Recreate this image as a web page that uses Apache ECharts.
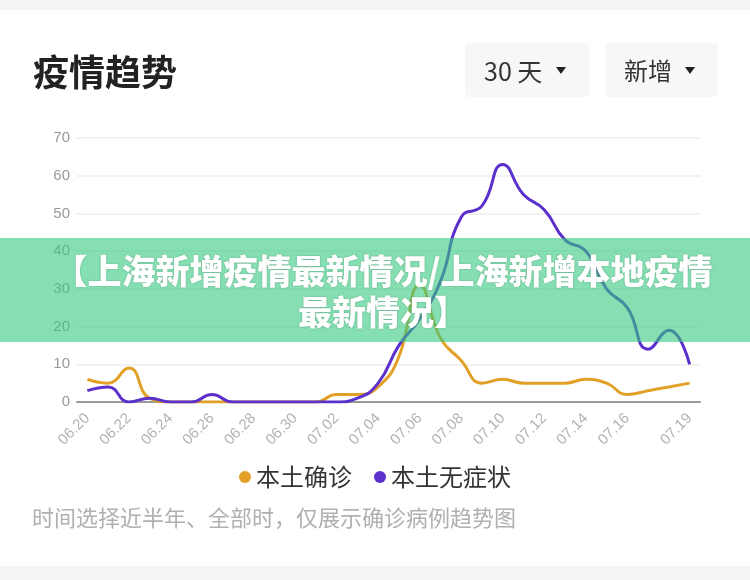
<!DOCTYPE html>
<html>
<head>
<meta charset="utf-8">
<script src="https://cdn.jsdelivr.net/npm/echarts@6/dist/echarts.min.js"></script>
<style>
html,body{margin:0;padding:0;background:#fff;}
#c{width:750px;height:580px;}
</style>
</head>
<body>
<div id="c"></div>
<script>
const dates = ['06.20','06.21','06.22','06.23','06.24','06.25','06.26','06.27','06.28','06.29','06.30',
  '07.01','07.02','07.03','07.04','07.05','07.06','07.07','07.08','07.09','07.10',
  '07.11','07.12','07.13','07.14','07.15','07.16','07.17','07.18','07.19'];
const confirmed = [6,5,9,1,0,0,0,0,0,0,0, 0,2,2,4,12,31,17,11,5,6, 5,5,5,6,5,2,3,4,5];
const asymptomatic = [3,4,0,1,0,0,2,0,0,0,0, 0,0,1,5,15,22,32,49,52,63, 55,51,43,40,30,25,14,19,10];
const seriesNames = ['本土确诊','本土无症状'];
const titleText = '疫情趋势';
const noteText = '时间选择近半年、全部时，仅展示确诊病例趋势图';
const bannerLine1 = '【上海新增疫情最新情况/上海新增本地疫情';
const bannerLine2 = '最新情况】';

const CJK = '"Noto Sans CJK SC", "Noto Sans", sans-serif';
const LAT = '"Liberation Sans", Arial, sans-serif';
const chart = echarts.init(document.getElementById('c'), null, {renderer:'canvas'});
chart.setOption({
  backgroundColor:'#ffffff',
  animation:false,
  grid:{left:77, right:50, top:138, bottom:178},
  legend:{
    data:seriesNames, top:460, left:'center', icon:'circle', itemWidth:12, itemHeight:12, itemGap:22,
    textStyle:{fontSize:24, color:'#333', fontFamily:CJK}
  },
  xAxis:{
    type:'category', data:dates, boundaryGap:true,
    axisLine:{lineStyle:{color:'#999', width:2}},
    axisTick:{show:false},
    axisLabel:{
      rotate:45, color:'#b3b3b3', fontSize:15, margin:14, fontFamily:LAT,
      interval:function(i){ return (i % 2 === 0 && i <= 26) || i === 29; }
    }
  },
  yAxis:{
    type:'value', min:0, max:70, interval:10,
    axisLine:{show:false}, axisTick:{show:false},
    axisLabel:{color:'#9a9a9a', fontSize:15, margin:7, fontFamily:LAT},
    splitLine:{lineStyle:{color:'#eeeeee', width:1.5}}
  },
  series:[
    {name:seriesNames[0], type:'line', data:confirmed, smooth:true, showSymbol:false, symbol:'circle',
     lineStyle:{width:3, color:'#E2A027'}, itemStyle:{color:'#E2A027'}},
    {name:seriesNames[1], type:'line', data:asymptomatic, smooth:true, showSymbol:false, symbol:'circle',
     lineStyle:{width:3, color:'#5C30CC'}, itemStyle:{color:'#5C30CC'}}
  ],
  graphic:[
    {type:'rect', shape:{x:0,y:0,width:750,height:10}, style:{fill:'#f4f4f4'}, silent:true},
    {type:'rect', shape:{x:0,y:566,width:750,height:14}, style:{fill:'#f4f4f4'}, silent:true},
    {type:'text', x:33, y:72, style:{text:titleText, fontSize:36, fontWeight:'bold', fill:'#222', fontFamily:CJK, verticalAlign:'middle'}},
    {type:'rect', shape:{x:465,y:43,width:124,height:54,r:4}, style:{fill:'#f7f7f7'}},
    {type:'text', x:484, y:71, style:{text:'30 天', fontSize:25, fill:'#333', fontFamily:CJK, verticalAlign:'middle'}},
    {type:'polygon', shape:{points:[[556,67],[566,67],[561,74]]}, style:{fill:'#222'}},
    {type:'rect', shape:{x:606,y:43,width:112,height:54,r:4}, style:{fill:'#f7f7f7'}},
    {type:'text', x:624, y:71, style:{text:'新增', fontSize:24, fill:'#333', fontFamily:CJK, verticalAlign:'middle'}},
    {type:'polygon', shape:{points:[[685,67],[695,67],[690,74]]}, style:{fill:'#222'}},
    {type:'text', x:32, y:518, style:{text:noteText, fontSize:22, fill:'#b0b0b0', fontFamily:CJK, verticalAlign:'middle'}},
    {type:'rect', z:100, shape:{x:0,y:238,width:750,height:104}, style:{fill:'rgba(52,202,126,0.6)'}},
    {type:'text', z:101, x:383, y:271, style:{text:bannerLine1, fontSize:34, fontWeight:900, fill:'#ffffff', fontFamily:CJK,
      align:'center', verticalAlign:'middle', textShadowColor:'rgba(0,0,0,0.25)', textShadowBlur:2}},
    {type:'text', z:101, x:383, y:312, style:{text:bannerLine2, fontSize:34, fontWeight:900, fill:'#ffffff', fontFamily:CJK,
      align:'center', verticalAlign:'middle', textShadowColor:'rgba(0,0,0,0.25)', textShadowBlur:2}}
  ]
});
</script>
</body>
</html>
